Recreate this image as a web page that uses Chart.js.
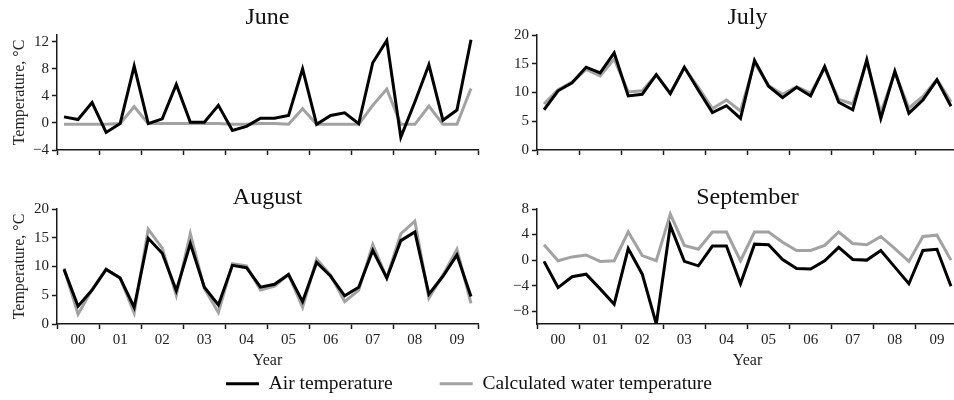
<!DOCTYPE html>
<html>
<head>
<meta charset="utf-8">
<script src="https://cdn.jsdelivr.net/npm/chart.js@4.4.1/dist/chart.umd.min.js"></script>
<style>
  html, body { margin:0; padding:0; background:#fff; width:954px; height:400px; overflow:hidden; position:relative; }
  canvas { position:absolute; }
</style>
</head>
<body>
<canvas id="june" width="480" height="165" style="left:0;top:0"></canvas>
<canvas id="july" width="480" height="165" style="left:480px;top:0"></canvas>
<canvas id="august" width="480" height="190" style="left:0;top:180px"></canvas>
<canvas id="september" width="480" height="190" style="left:480px;top:180px"></canvas>
<canvas id="legend" width="954" height="200" style="left:-8px;top:327px"></canvas>
<script>
// ---- categories ----
const yearLabels = ['00','01','02','03','04','05','06','07','08','09'];
const periodsPerYear = 3; // three ten-day periods per month in every year

// ---- series values (°C) ----
const juneAir   = [0.9,0.5,3.0,-1.4,-0.1,8.4,-0.1,0.6,5.7,0.1,0.1,2.6,-1.1,-0.5,0.7,0.7,1.1,8.0,-0.2,1.1,1.5,-0.1,8.9,12.2,-2.1,3.1,8.6,0.4,1.9,12.3];
const juneWater = [-0.2,-0.2,-0.2,-0.2,-0.1,2.4,-0.1,-0.1,-0.1,-0.1,-0.1,-0.1,-0.2,-0.2,-0.1,-0.1,-0.2,2.1,-0.2,-0.2,-0.2,-0.2,2.6,5.0,-0.2,-0.2,2.5,-0.2,-0.2,5.1];

const julyAir   = [7.0,10.3,11.7,14.4,13.4,16.9,9.4,9.7,13.1,9.8,14.4,10.4,6.5,7.7,5.5,15.6,11.1,9.1,10.9,9.4,14.5,8.3,7.0,15.7,5.5,13.7,6.4,8.7,12.2,7.6];
const julyWater = [8.0,10.5,11.8,14.0,12.9,15.8,10.1,10.3,13.1,9.9,14.3,10.9,7.2,8.7,6.8,15.2,11.2,9.7,11.0,9.9,14.2,8.8,8.0,15.3,6.5,13.5,7.3,9.3,12.3,8.4];

const augustAir   = [9.5,3.1,5.9,9.5,8.0,2.9,14.9,12.3,5.8,14.0,6.4,3.3,10.2,9.8,6.4,6.9,8.6,3.9,10.7,8.3,4.9,6.4,12.8,8.0,14.5,16.0,5.2,8.3,12.0,4.8];
const augustWater = [9.7,1.7,6.0,9.5,8.0,1.9,16.5,13.2,5.0,15.7,6.2,2.0,10.5,10.1,5.9,6.6,8.6,2.9,11.3,8.5,3.9,5.9,13.8,8.0,15.7,17.9,4.5,8.5,13.0,3.6];

const septemberAir   = [-0.2,-4.3,-2.6,-2.2,-4.5,-6.9,1.8,-2.2,-10.0,5.4,-0.2,-0.9,2.2,2.2,-3.7,2.5,2.4,0.1,-1.3,-1.4,-0.1,2.0,0.1,0.0,1.5,-1.1,-3.7,1.5,1.7,-4.1];
const septemberWater = [2.4,-0.1,0.5,0.8,-0.2,-0.1,4.4,0.7,-0.1,7.2,2.3,1.7,4.4,4.4,-0.1,4.4,4.4,2.8,1.5,1.5,2.3,4.4,2.6,2.4,3.7,1.8,-0.2,3.7,3.9,0.0];

// ---- tick labels ----
const juneTicks = [-4,0,4,8,12];
const julyTicks = [0,5,10,15,20];
const augustTicks = [0,5,10,15,20];
const septemberTicks = [-8,-4,0,4,8];

const seriesNames = ['Air temperature','Calculated water temperature'];
const airColor = '#000000';
const waterColor = '#a2a2a2';
const axisColor = '#1a1a1a';

Chart.defaults.font.family = '"Liberation Serif", "Times New Roman", "DejaVu Serif", serif';
Chart.defaults.color = '#111';

// place each value inside its year: periods sit at 1/6, 1/2, 5/6 of the year slot
function toPoints(values) {
  return values.map((v, i) => ({
    x: Math.floor(i / periodsPerYear) + ((i % periodsPerYear) + 0.5) / periodsPerYear,
    y: v
  }));
}

const xTickValues = [];
yearLabels.forEach((lab, i) => { xTickValues.push(i, i + 0.5); });
xTickValues.push(yearLabels.length);

function makePanel(id, title, air, water, yMin, yMax, yTicks, bottomRow, showYTitle) {
  new Chart(document.getElementById(id), {
    type: 'line',
    data: {
      datasets: [
        { label: seriesNames[0], data: toPoints(air), borderColor: airColor, backgroundColor: airColor,
          borderWidth: 3, pointRadius: 0, tension: 0, borderJoinStyle: 'miter' },
        { label: seriesNames[1], data: toPoints(water), borderColor: waterColor, backgroundColor: waterColor,
          borderWidth: 3, pointRadius: 0, tension: 0, borderJoinStyle: 'miter' }
      ]
    },
    options: {
      responsive: false,
      animation: false,
      devicePixelRatio: 1,
      layout: { padding: { left: 0, right: 1, top: 0, bottom: 0 } },
      plugins: {
        legend: { display: false },
        tooltip: { enabled: false },
        title: {
          display: true, text: title, fullSize: false, color: '#111',
          font: { size: 24, weight: 'normal', lineHeight: bottomRow ? 0.9 : 1.0 },
          padding: bottomRow ? { top: 7.2, bottom: 0.2 } : { top: 6, bottom: 5 }
        }
      },
      scales: {
        x: {
          type: 'linear', min: 0, max: yearLabels.length,
          afterBuildTicks: s => { s.ticks = xTickValues.map(v => ({ value: v })); },
          afterFit: s => { s.height = bottomRow ? 46 : 15; },
          grid: {
            drawOnChartArea: false, drawTicks: true, tickLength: 5, tickWidth: 1.5,
            tickColor: ctx => (ctx.tick && Number.isInteger(ctx.tick.value)) ? axisColor : 'rgba(0,0,0,0)'
          },
          border: { display: true, color: axisColor, width: 1.5 },
          ticks: {
            autoSkip: false, maxRotation: 0, minRotation: 0, padding: 2, color: '#222',
            font: { size: 15 },
            callback: v => (bottomRow && !Number.isInteger(v)) ? yearLabels[Math.floor(v)] : ''
          },
          title: { display: bottomRow, text: 'Year', color: '#222', font: { size: 16 }, padding: { top: 0, bottom: 0 } }
        },
        y: {
          type: 'linear', min: yMin, max: yMax,
          afterBuildTicks: s => { s.ticks = yTicks.map(v => ({ value: v })); },
          afterFit: s => { s.width = 57; },
          grid: { drawOnChartArea: false, drawTicks: true, tickLength: 5, tickWidth: 1.5, tickColor: axisColor },
          border: { display: true, color: axisColor, width: 1.5 },
          ticks: { padding: 3, color: '#222', font: { size: 15 },
                   callback: v => String(v).replace('-', '\u2212') },
          title: { display: showYTitle, text: 'Temperature, °C', color: '#222', font: { size: 16 },
                   padding: { top: 10.4, bottom: 0 } }
        }
      }
    }
  });
}

makePanel('june', 'June', juneAir, juneWater, -4, 13, juneTicks, false, true);
makePanel('july', 'July', julyAir, julyWater, 0, 20, julyTicks, false, false);
makePanel('august', 'August', augustAir, augustWater, 0, 20, augustTicks, true, true);
makePanel('september', 'September', septemberAir, septemberWater, -10, 8, septemberTicks, true, false);

// shared legend
new Chart(document.getElementById('legend'), {
  type: 'line',
  data: {
    datasets: [
      { label: seriesNames[0], data: [], borderColor: airColor, backgroundColor: airColor, borderWidth: 0 },
      { label: seriesNames[1], data: [], borderColor: waterColor, backgroundColor: waterColor, borderWidth: 0 }
    ]
  },
  options: {
    responsive: false, animation: false, devicePixelRatio: 1,
    scales: { x: { display: false }, y: { display: false } },
    plugins: {
      tooltip: { enabled: false },
      legend: {
        display: true, position: 'top', align: 'center', maxHeight: 120,
        labels: { boxWidth: 33, boxHeight: 3, padding: 47, color: '#111', font: { size: 19.5 } }
      }
    }
  }
});
</script>
</body>
</html>
